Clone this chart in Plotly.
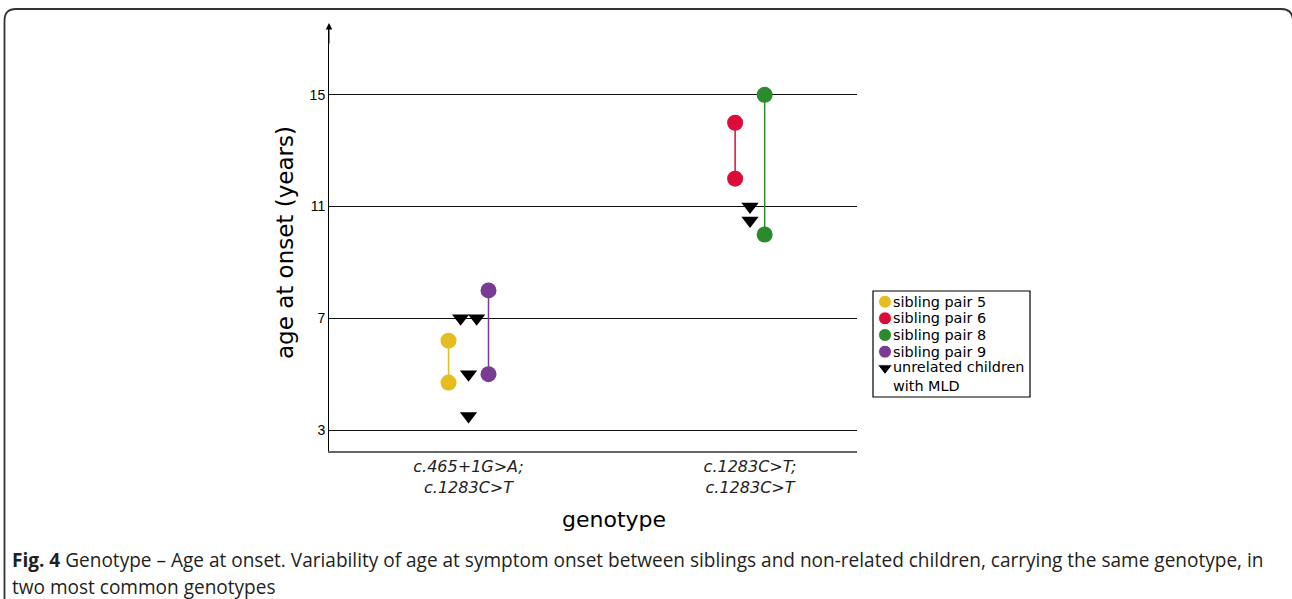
import plotly.graph_objects as go

W, H = 1292, 599

# ---------------- data ----------------
genotypes = ["c.465+1G>A;<br>c.1283C>T", "c.1283C>T;<br>c.1283C>T"]
geno_pos = [1, 2]

pair_names = ["sibling pair 5", "sibling pair 6", "sibling pair 8", "sibling pair 9"]
pair_colors = ["#E5BD20", "#DC0B3A", "#2B8A2B", "#7A3B93"]
pair_geno = [0, 1, 1, 0]
pair_offset = [-0.071, -0.053, 0.052, 0.071]
pair_ages = [[6.2, 4.7], [14.0, 12.0], [15.0, 10.0], [8.0, 5.0]]

unrel_geno = [0, 0, 0, 0, 1, 1]
unrel_offset = [-0.028, 0.029, 0.0, 0.0, 0.0, 0.0]
unrel_ages = [7.0, 7.0, 5.0, 3.5, 11.0, 10.5]

y_ticks = [3, 7, 11, 15]
legend_labels = pair_names + ["unrelated children<br>with MLD"]

caption_bold = "Fig. 4"
caption_text = (" Genotype – Age at onset. Variability of age at symptom onset between siblings "
                "and non-related children, carrying the same genotype, in")
caption_line2 = "two most common genotypes"

# ---------------- helpers ----------------
def px(x):
    return x / W


def py(y):
    return 1 - y / H


fig = go.Figure()

for name, col, g, off, ages in zip(pair_names, pair_colors, pair_geno, pair_offset, pair_ages):
    xv = geno_pos[g] + off
    fig.add_trace(go.Scatter(
        x=[xv] * len(ages), y=ages, mode="lines+markers", name=name,
        line=dict(color=col, width=1.5),
        marker=dict(color=col, size=16, symbol="circle", opacity=1),
        showlegend=False, xaxis="x", yaxis="y"))

fig.add_trace(go.Scatter(
    x=[geno_pos[g] + o for g, o in zip(unrel_geno, unrel_offset)], y=unrel_ages,
    mode="markers", name="unrelated children with MLD",
    marker=dict(color="black", size=15, symbol="triangle-down", opacity=1),
    showlegend=False, xaxis="x", yaxis="y"))

# manual legend (markers drawn on a helper axis spanning the legend box)
leg_rows = [10.7, 27.3, 44.0, 60.7, 77.0]
leg_cols = pair_colors + ["black"]
leg_syms = ["circle"] * 4 + ["triangle-down"]
leg_sizes = [13, 13, 13, 13, 13]
fig.add_trace(go.Scatter(
    x=[12] * 5, y=leg_rows, mode="markers",
    marker=dict(color=leg_cols, symbol=leg_syms, size=leg_sizes, opacity=1),
    showlegend=False, xaxis="x2", yaxis="y2", hoverinfo="skip"))

leg_x0, leg_x1, leg_y0, leg_y1 = 873, 1030, 291, 397

fig.update_layout(
    width=W, height=H,
    margin=dict(l=0, r=0, t=0, b=0),
    paper_bgcolor="white", plot_bgcolor="white",
    showlegend=False,
    xaxis=dict(domain=[px(329), px(857)], range=[0.5044, 2.380],
               tickvals=geno_pos, ticktext=["<i>%s</i>" % g for g in genotypes],
               tickfont=dict(family="DejaVu Sans", size=16, color="#222"),
               showgrid=False, zeroline=False, showline=True,
               linecolor="#666", linewidth=2, ticks="", fixedrange=True),
    yaxis=dict(domain=[py(451), py(25)], range=[2.25, 17.5],
               tickvals=y_ticks, ticktext=[str(t) for t in y_ticks],
               tickfont=dict(family="Liberation Sans, Arial", size=14, color="black"),
               showgrid=True, gridcolor="#111", gridwidth=1, zeroline=False,
               showline=True, linecolor="black", linewidth=1, ticks="",
               fixedrange=True),
    xaxis2=dict(domain=[px(leg_x0), px(leg_x1)], range=[0, leg_x1 - leg_x0],
                visible=False, anchor="y2", fixedrange=True),
    yaxis2=dict(domain=[py(leg_y1), py(leg_y0)], range=[leg_y1 - leg_y0, 0],
                visible=False, anchor="x2", fixedrange=True),
)

shapes = [
    # legend box
    dict(type="rect", xref="paper", yref="paper", x0=px(leg_x0), x1=px(leg_x1),
         y0=py(leg_y1), y1=py(leg_y0), line=dict(color="black", width=1.2)),
    # figure frame with rounded top corners
    dict(type="path", xref="paper", yref="paper",
         path=("M %f,%f L %f,%f Q %f,%f %f,%f L %f,%f Q %f,%f %f,%f L %f,%f" % (
             px(4.5), py(640), px(4.5), py(21),
             px(4.5), py(9), px(16), py(9),
             px(1281), py(9),
             px(1293), py(9), px(1293), py(21),
             px(1293), py(640))),
         line=dict(color="#333", width=1.8)),
]
fig.update_layout(shapes=shapes)

annotations = []
# legend labels
leg_text_rows = [10.7, 27.3, 44.0, 60.7, 85.3]
for lab, yr in zip(legend_labels, leg_text_rows):
    annotations.append(dict(
        xref="x2", yref="y2", x=18, y=yr, text=lab, showarrow=False,
        xanchor="left", yanchor="middle", align="left",
        font=dict(family="DejaVu Sans", size=14.4, color="black")))

# y axis arrow head
annotations.append(dict(
    xref="paper", yref="paper", x=px(329), y=py(23), ax=0, ay=22,
    axref="pixel", ayref="pixel", text="", showarrow=True,
    arrowhead=2, arrowsize=1.3, arrowwidth=1, arrowcolor="black"))

# axis titles
annotations.append(dict(
    xref="paper", yref="paper", x=px(285), y=py(243), text="age at onset (years)",
    textangle=-90, showarrow=False, xanchor="center", yanchor="middle",
    font=dict(family="DejaVu Sans", size=23, color="black")))
annotations.append(dict(
    xref="paper", yref="paper", x=px(614), y=py(519), text="genotype",
    showarrow=False, xanchor="center", yanchor="middle",
    font=dict(family="DejaVu Sans", size=22, color="black")))

# caption
annotations.append(dict(
    xref="paper", yref="paper", x=px(10), y=py(560),
    text="<b>%s</b>%s" % (caption_bold, caption_text),
    showarrow=False, xanchor="left", yanchor="middle",
    font=dict(family="Open Sans", size=19.05, color="#231F20")))
annotations.append(dict(
    xref="paper", yref="paper", x=px(10), y=py(587), text=caption_line2,
    showarrow=False, xanchor="left", yanchor="middle",
    font=dict(family="Open Sans", size=19.05, color="#231F20")))

fig.update_layout(annotations=annotations)

fig.write_html("out.html")
